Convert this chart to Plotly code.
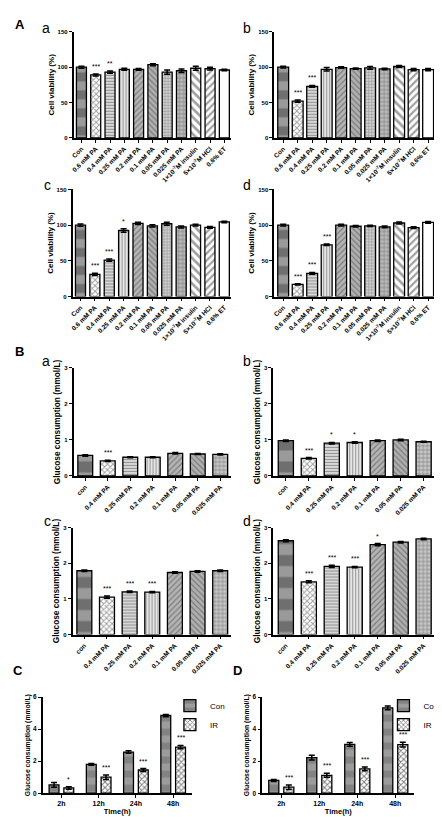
import plotly.graph_objects as go

W, H = 442, 817
FONT = "Liberation Sans, Arial, sans-serif"

# ---------------- data ----------------
A_labels = ["Con", "0.6 mM PA", "0.4 mM PA", "0.25 mM PA", "0.2 mM PA", "0.1 mM PA",
            "0.05 mM PA", "0.025 mM PA", "1×10<sup>-7</sup>M insulin",
            "5×10<sup>-7</sup>M HCl", "0.6% ET"]
Aa_vals = [100, 89, 93, 97, 97, 103.5, 93, 95, 98.5, 98, 96]
Aa_err = [1.5, 1.5, 1.5, 1.5, 1.2, 1.5, 3, 2.5, 3, 2, 1]
Aa_sig = ["", "***", "**", "", "", "", "", "", "", "", ""]
Ab_vals = [100, 52, 73, 97, 99.5, 98, 99, 97.5, 101, 96.5, 96.5]
Ab_err = [1.2, 1.5, 1.2, 2.5, 1, 1, 2, 1, 1.5, 1.5, 1.5]
Ab_sig = ["", "***", "***", "", "", "", "", "", "", "", ""]
Ac_vals = [100, 31, 51, 92.5, 102.5, 99, 102, 97.5, 100, 97, 104.5]
Ac_err = [1.5, 1.5, 1.5, 2.5, 1.5, 1.5, 2, 1.5, 1.2, 1.2, 1]
Ac_sig = ["", "***", "***", "*", "", "", "", "", "", "", ""]
Ad_vals = [100, 17, 32.5, 72.5, 100, 98.5, 99, 97.5, 103, 96.5, 104]
Ad_err = [1.2, 1, 1.2, 1, 1.2, 1, 1, 1.2, 1.5, 1.2, 1.2]
Ad_sig = ["", "***", "***", "***", "", "", "", "", "", "", ""]

B_labels = ["con", "0.4 mM PA", "0.25 mM PA", "0.2 mM PA", "0.1 mM PA", "0.05 mM PA", "0.025 mM PA"]
Ba_vals = [0.57, 0.42, 0.52, 0.52, 0.63, 0.61, 0.60]
Ba_err = [0.02, 0.02, 0.015, 0.015, 0.02, 0.015, 0.015]
Ba_sig = ["", "***", "", "", "", "", ""]
Bb_vals = [0.98, 0.49, 0.91, 0.93, 0.98, 1.0, 0.95]
Bb_err = [0.02, 0.02, 0.02, 0.02, 0.02, 0.02, 0.015]
Bb_sig = ["", "***", "*", "*", "", "", ""]
Bc_vals = [1.79, 1.05, 1.20, 1.19, 1.74, 1.77, 1.79]
Bc_err = [0.02, 0.03, 0.02, 0.02, 0.02, 0.02, 0.02]
Bc_sig = ["", "***", "***", "***", "", "", ""]
Bd_vals = [2.63, 1.48, 1.91, 1.89, 2.52, 2.59, 2.68]
Bd_err = [0.03, 0.03, 0.03, 0.02, 0.03, 0.02, 0.02]
Bd_sig = ["", "***", "***", "***", "*", "", ""]

T_labels = ["2h", "12h", "24h", "48h"]
C_con = [0.52, 1.80, 2.57, 4.85]
C_con_err = [0.15, 0.06, 0.08, 0.07]
C_ir = [0.33, 1.00, 1.45, 2.88]
C_ir_err = [0.08, 0.14, 0.09, 0.1]
C_sig = ["*", "***", "***", "***"]
D_con = [0.80, 2.22, 3.05, 5.33]
D_con_err = [0.06, 0.15, 0.12, 0.12]
D_ir = [0.38, 1.12, 1.52, 3.03]
D_ir_err = [0.14, 0.12, 0.12, 0.15]
D_sig = ["***", "***", "***", "***"]

# ---------------- styles ----------------
A_pat = dict(
    shape=["-", "x", "-", "|", "/", "\\", "+", "+", "\\", "/", ""],
    fgcolor=["#6f6f6f", "#000000", "#9a9a9a", "#a8a8a8", "#7c7c7c", "#7c7c7c", "#8a8a8a", "#707070", "#000000", "#000000", "#ffffff"],
    bgcolor=["#9a9a9a", "#ffffff", "#dedede", "#ececec", "#b5b5b5", "#b0b0b0", "#cfcfcf", "#bdbdbd", "#ffffff", "#ffffff", "#ffffff"],
    size=[18, 4, 3, 3, 4, 4, 3, 4, 6, 5, 4],
    solidity=[0.5, 0.45, 0.4, 0.4, 0.3, 0.3, 0.3, 0.35, 0.45, 0.45, 0.1],
)
A_col = ["#9a9a9a", "#ffffff", "#dedede", "#ececec", "#b5b5b5", "#b0b0b0", "#cfcfcf", "#bdbdbd", "#ffffff", "#ffffff", "#ffffff"]
B_pat = dict(
    shape=["-", "x", "-", "|", "/", "\\", "+"],
    fgcolor=["#6f6f6f", "#000000", "#9a9a9a", "#a8a8a8", "#7c7c7c", "#7c7c7c", "#808080"],
    bgcolor=["#9a9a9a", "#ffffff", "#dedede", "#ececec", "#b5b5b5", "#b0b0b0", "#c8c8c8"],
    size=[22, 4, 3, 3, 4, 4, 4],
    solidity=[0.5, 0.45, 0.4, 0.4, 0.3, 0.3, 0.35],
)
B_col = ["#9a9a9a", "#ffffff", "#dedede", "#ececec", "#b5b5b5", "#b0b0b0", "#c8c8c8"]


def px_dom_x(a, b):
    return [a / W, b / W]


def px_dom_y(top, bottom):
    return [1 - bottom / H, 1 - top / H]


fig = go.Figure()
annotations = []

single = [
    (Aa_vals, Aa_err, Aa_sig, A_labels, (63, 222), (20, 127), [0, 150], [0, 50, 100, 150], "Cell viability (%)", A_pat, A_col, 0.70, [-0.55, 10.5], 8),
    (Ab_vals, Ab_err, Ab_sig, A_labels, (265, 428), (20, 127), [0, 150], [0, 50, 100, 150], "Cell viability (%)", A_pat, A_col, 0.75, [-0.62, 10.55], 8),
    (Ac_vals, Ac_err, Ac_sig, A_labels, (62, 222), (179, 287), [0, 150], [0, 50, 100, 150], "Cell viability (%)", A_pat, A_col, 0.70, [-0.55, 10.5], 8),
    (Ad_vals, Ad_err, Ad_sig, A_labels, (265, 428), (179, 287), [0, 150], [0, 50, 100, 150], "Cell viability (%)", A_pat, A_col, 0.75, [-0.62, 10.55], 8),
    (Ba_vals, Ba_err, Ba_sig, B_labels, (63, 222), (359, 468), [0, 3], [0, 1, 2, 3], "Glucose consumption (mmol/L)", B_pat, B_col, 0.66, [-0.52, 6.5], 8.3),
    (Bb_vals, Bb_err, Bb_sig, B_labels, (264, 427), (359, 468), [0, 3], [0, 1, 2, 3], "Glucose consumption (mmol/L)", B_pat, B_col, 0.66, [-0.55, 6.5], 8.3),
    (Bc_vals, Bc_err, Bc_sig, B_labels, (62, 222), (520, 628), [0, 3], [0, 1, 2, 3], "Glucose consumption (mmol/L)", B_pat, B_col, 0.66, [-0.52, 6.5], 8.3),
    (Bd_vals, Bd_err, Bd_sig, B_labels, (264, 427), (520, 628), [0, 3], [0, 1, 2, 3], "Glucose consumption (mmol/L)", B_pat, B_col, 0.66, [-0.55, 6.5], 8.3),
]

axis_common = dict(showline=True, linecolor="black", linewidth=1.5, ticks="outside",
                   tickcolor="black", tickwidth=1.2, ticklen=3, showgrid=False, zeroline=False)

idx = 0
for (vals, errs, sigs, labels, xp, yp, yr, ytv, ytitle, pat, cols, bw, xr, ts) in single:
    idx += 1
    xa = "x" if idx == 1 else f"x{idx}"
    ya = "y" if idx == 1 else f"y{idx}"
    xs = list(range(len(vals)))
    fig.add_trace(go.Bar(
        x=xs, y=vals, width=bw, xaxis=xa, yaxis=ya, showlegend=False,
        marker=dict(color=cols, line=dict(color="black", width=1.3), pattern=pat),
        error_y=dict(type="data", array=errs, color="black", thickness=1.5, width=3),
    ))
    for i, s in enumerate(sigs):
        if s:
            annotations.append(dict(x=xs[i], y=vals[i] + errs[i], xref=xa, yref=ya, text=s,
                                    showarrow=False, yanchor="bottom", yshift=2,
                                    font=dict(family=FONT, size=7, color="black")))
    fig.layout[("xaxis" if idx == 1 else f"xaxis{idx}")] = dict(
        domain=px_dom_x(*xp), anchor=ya, range=xr, tickmode="array", tickvals=xs,
        ticktext=labels, tickangle=-45, tickfont=dict(family=FONT, size=6.5, weight="bold", color="black"),
        **axis_common)
    fig.layout[("yaxis" if idx == 1 else f"yaxis{idx}")] = dict(
        domain=px_dom_y(*yp), anchor=xa, range=yr, tickvals=ytv,
        tickfont=dict(family=FONT, size=6, weight="bold", color="black"),
        title=dict(text=ytitle, font=dict(family=FONT, size=ts, weight="bold", color="black"), standoff=2),
        **axis_common)

grouped = [
    (C_con, C_con_err, C_ir, C_ir_err, C_sig, (32, 182), "legend", 160),
    (D_con, D_con_err, D_ir, D_ir_err, D_sig, (253, 406), "legend2", 375),
]
for (con, conerr, ir, irerr, sig, xp, leg, legx) in grouped:
    idx += 1
    xa, ya = f"x{idx}", f"y{idx}"
    xs = list(range(len(T_labels)))
    fig.add_trace(go.Bar(
        x=xs, y=con, width=0.265, offset=-0.33, xaxis=xa, yaxis=ya, name="Con", legend=leg,
        marker=dict(color="#8a8a8a", line=dict(color="black", width=1.3),
                    pattern=dict(shape="-", fgcolor="#6a6a6a", bgcolor="#9c9c9c", size=14, solidity=0.5)),
        error_y=dict(type="data", array=conerr, color="black", thickness=1.5, width=3),
    ))
    fig.add_trace(go.Bar(
        x=xs, y=ir, width=0.265, offset=0.066, xaxis=xa, yaxis=ya, name="IR", legend=leg,
        marker=dict(color="#ffffff", line=dict(color="black", width=1.3),
                    pattern=dict(shape="x", fgcolor="#000000", bgcolor="#ffffff", size=4, solidity=0.45)),
        error_y=dict(type="data", array=irerr, color="black", thickness=1.5, width=3),
    ))
    for i, s in enumerate(sig):
        annotations.append(dict(x=xs[i] + 0.2, y=ir[i] + irerr[i], xref=xa, yref=ya, text=s,
                                showarrow=False, yanchor="bottom", yshift=2,
                                font=dict(family=FONT, size=7, color="black")))
    fig.layout[f"xaxis{idx}"] = dict(
        domain=px_dom_x(*xp), anchor=ya, range=[-0.5, 3.5], tickmode="array", tickvals=xs,
        ticktext=T_labels, tickfont=dict(family=FONT, size=7, weight="bold", color="black"),
        title=dict(text="Time(h)", font=dict(family=FONT, size=7.5, weight="bold", color="black"), standoff=0),
        **axis_common)
    fig.layout[f"yaxis{idx}"] = dict(
        domain=px_dom_y(691, 788), anchor=xa, range=[0, 6], tickvals=[0, 2, 4, 6],
        tickfont=dict(family=FONT, size=6.5, weight="bold", color="black"),
        title=dict(text="Glucose consumption (mmol/L)", font=dict(family=FONT, size=6.8, weight="bold", color="black"), standoff=2),
        **axis_common)
    fig.layout[leg] = dict(x=legx / W, y=1 - 685 / H, xanchor="left", yanchor="top",
                           bgcolor="rgba(0,0,0,0)", font=dict(family=FONT, size=8, color="black"),
                           tracegroupgap=0, itemwidth=30, traceorder="normal")

letters = [("A", 2, 3, True), ("a", 29, 6, False), ("b", 232, 6, False), ("c", 31, 164, False),
           ("d", 232, 164, False), ("B", 2, 333, True), ("a", 29, 342, False), ("b", 232, 342, False),
           ("c", 31, 503, False), ("d", 232, 503, False), ("C", 0, 655, True), ("D", 221, 655, True)]
for (t, x, y, bold) in letters:
    annotations.append(dict(x=x / W, y=1 - y / H, xref="paper", yref="paper", text=t, showarrow=False,
                            xanchor="left", yanchor="top",
                            font=dict(family=FONT, size=13 if bold else 14, color="black",
                                      weight="bold" if bold else "normal")))

fig.update_layout(width=W, height=H, margin=dict(l=0, r=0, t=0, b=0), plot_bgcolor="white",
                  paper_bgcolor="white", annotations=annotations, barmode="overlay",
                  font=dict(family=FONT, color="black"))

fig.write_html("out.html")
